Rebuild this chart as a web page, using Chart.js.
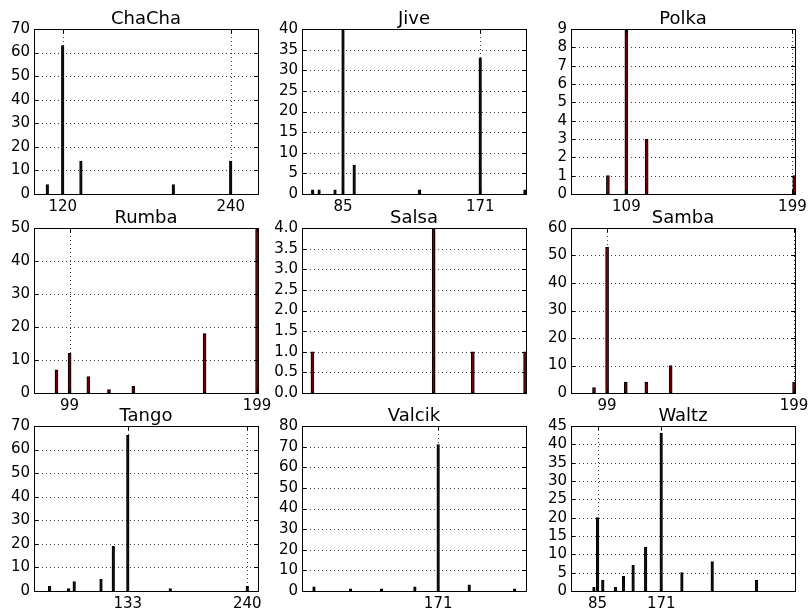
<!DOCTYPE html>
<html>
<head>
<meta charset="utf-8">
<script src="https://cdn.jsdelivr.net/npm/chart.js@4.4.1/dist/chart.umd.min.js"></script>
<style>
  html, body { margin: 0; padding: 0; background: #fff; overflow: hidden; }
  #grid { position: relative; width: 809px; height: 616px; }
  .cell { position: absolute; width: 274px; height: 216px; }
</style>
</head>
<body>
<div id="grid"></div>
<script>
'use strict';

let dances = ['ChaCha', 'Jive', 'Polka', 'Rumba', 'Salsa', 'Samba', 'Tango', 'Valcik', 'Waltz'];

let chachaTempo = [109, 120, 133, 199, 240];
let chachaCount = [4, 63, 14, 4, 14];
let jiveTempo = [66, 70, 80, 85, 92, 133, 171, 199];
let jiveCount = [1, 1, 1, 40, 7, 1, 33, 1];
let polkaTempo = [99, 109, 120, 200];
let polkaCount = [1, 9, 3, 1];
let rumbaTempo = [92, 99, 109, 120, 133, 171, 199];
let rumbaCount = [7, 12, 5, 1, 2, 18, 50];
let salsaTempo = [85, 150, 171, 199];
let salsaCount = [1, 4, 1, 1];
let sambaTempo = [92, 99, 109, 120, 133, 199];
let sambaCount = [2, 53, 4, 4, 10, 4];
let tangoTempo = [63, 80, 85, 109, 120, 133, 171, 240];
let tangoCount = [2, 1, 4, 5, 19, 66, 1, 2];
let valcikTempo = [59, 92, 120, 150, 171, 199, 240];
let valcikCount = [2, 1, 1, 2, 71, 3, 1];
let waltzTempo = [80, 85, 92, 109, 120, 133, 150, 171, 199, 240, 300];
let waltzCount = [1, 20, 3, 1, 4, 7, 12, 43, 5, 8, 3];

let tempos = [chachaTempo, jiveTempo, polkaTempo, rumbaTempo, salsaTempo, sambaTempo, tangoTempo, valcikTempo, waltzTempo];
let counts = [chachaCount, jiveCount, polkaCount, rumbaCount, salsaCount, sambaCount, tangoCount, valcikCount, waltzCount];

// tick labels on the tempo axis of each panel
let xTicks = [[120, 240], [85, 171], [109, 199], [99, 199], [], [99, 199], [133, 240], [171], [85, 171]];
let xMin = [99.5, 59.3, 79, 80, 79.4, 79.7, 49, 48.2, 49];
let xMax = [259.5, 199.7, 200.4, 199.5, 199.5, 199.5, 249.6, 250.2, 352];
let yMax = [70, 40, 9, 50, 4, 60, 70, 80, 45];
let yStep = [10, 5, 1, 10, 0.5, 10, 10, 10, 5];

const FONT = 'DejaVu Sans';
const colLeft = [0, 268, 537];
const rowTop = [0, 199, 397];
const W = 274;
const H = 216;

// dotted grid, frame, inward ticks and title, matplotlib classic look
const framePlugin = {
  id: 'frame',
  beforeDatasetsDraw(chart) {
    let ctx = chart.ctx;
    let a = chart.chartArea;
    let xs = chart.scales.x;
    let ys = chart.scales.y;
    ctx.save();
    ctx.strokeStyle = 'rgba(0,0,0,0.75)';
    ctx.lineWidth = 1;
    ctx.setLineDash([1, 3]);
    ys.ticks.forEach(t => {
      let y = Math.round(ys.getPixelForValue(t.value)) + 0.5;
      ctx.beginPath();
      ctx.moveTo(a.left, y);
      ctx.lineTo(a.right, y);
      ctx.stroke();
    });
    xs.ticks.forEach(t => {
      let x = Math.round(xs.getPixelForValue(t.value)) + 0.5;
      ctx.beginPath();
      ctx.moveTo(x, a.top);
      ctx.lineTo(x, a.bottom);
      ctx.stroke();
    });
    ctx.restore();
  },
  afterDraw(chart, args, opts) {
    let ctx = chart.ctx;
    let a = chart.chartArea;
    let xs = chart.scales.x;
    let ys = chart.scales.y;
    ctx.save();
    ctx.strokeStyle = '#000';
    ctx.lineWidth = 1;
    ctx.setLineDash([]);
    ys.ticks.forEach(t => {
      let y = Math.round(ys.getPixelForValue(t.value)) + 0.5;
      ctx.beginPath();
      ctx.moveTo(a.left, y);
      ctx.lineTo(a.left + 4, y);
      ctx.moveTo(a.right, y);
      ctx.lineTo(a.right - 4, y);
      ctx.stroke();
    });
    xs.ticks.forEach(t => {
      let x = Math.round(xs.getPixelForValue(t.value)) + 0.5;
      ctx.beginPath();
      ctx.moveTo(x, a.bottom);
      ctx.lineTo(x, a.bottom - 4);
      ctx.moveTo(x, a.top);
      ctx.lineTo(x, a.top + 4);
      ctx.stroke();
    });
    ctx.strokeRect(Math.round(a.left) + 0.5, Math.round(a.top) + 0.5,
      Math.round(a.right - a.left), Math.round(a.bottom - a.top));
    ctx.fillStyle = '#000';
    ctx.font = '18px "' + FONT + '"';
    ctx.textAlign = 'center';
    ctx.textBaseline = 'alphabetic';
    ctx.fillText(opts.title, (a.left + a.right) / 2, a.top - 5);
    ctx.restore();
  }
};

function makePanel(i) {
  let div = document.createElement('div');
  div.className = 'cell';
  div.style.left = colLeft[i % 3] + 'px';
  div.style.top = rowTop[Math.floor(i / 3)] + 'px';
  let canvas = document.createElement('canvas');
  canvas.width = W;
  canvas.height = H;
  div.appendChild(canvas);
  document.getElementById('grid').appendChild(div);

  let points = tempos[i].map((t, k) => ({ x: t, y: counts[i][k] }));
  let pxPerUnit = 224 / (xMax[i] - xMin[i]);
  let wide = pxPerUnit >= 1.8;
  let ticksX = xTicks[i];
  let decimals = yStep[i] < 1 ? 1 : 0;

  new Chart(canvas, {
    type: 'bar',
    data: {
      datasets: [{
        data: points,
        backgroundColor: wide ? '#6e0000' : '#111',
        borderColor: '#000',
        borderWidth: 1,
        borderSkipped: false,
        barThickness: wide ? 3 : 2.6,
        grouped: false
      }]
    },
    options: {
      responsive: false,
      animation: false,
      events: [],
      layout: { padding: { left: 0, top: 29, right: 16, bottom: 0 } },
      plugins: {
        legend: { display: false },
        tooltip: { enabled: false },
        frame: { title: dances[i] }
      },
      scales: {
        x: {
          type: 'linear',
          offset: false,
          min: xMin[i],
          max: xMax[i],
          grid: { display: false, drawTicks: false },
          border: { display: false },
          afterBuildTicks: (scale) => {
            scale.ticks = ticksX.map(v => ({ value: v }));
          },
          afterFit: (scale) => {
            scale.height = 22;
            scale.paddingLeft = 0;
            scale.paddingRight = 0;
          },
          ticks: {
            autoSkip: false,
            maxRotation: 0,
            padding: 4,
            color: '#000',
            font: { family: FONT, size: 15 },
            callback: (v) => String(v)
          }
        },
        y: {
          min: 0,
          max: yMax[i],
          grid: { display: false, drawTicks: false },
          border: { display: false },
          afterFit: (scale) => {
            scale.width = 34;
            scale.paddingTop = 0;
            scale.paddingBottom = 0;
          },
          ticks: {
            stepSize: yStep[i],
            autoSkip: false,
            padding: 4,
            color: '#000',
            font: { family: FONT, size: 15 },
            callback: (v) => Number(v).toFixed(decimals)
          }
        }
      }
    },
    plugins: [framePlugin]
  });
}

Chart.defaults.font.family = FONT;
for (let i = 0; i < dances.length; i++) {
  makePanel(i);
}
</script>
</body>
</html>
